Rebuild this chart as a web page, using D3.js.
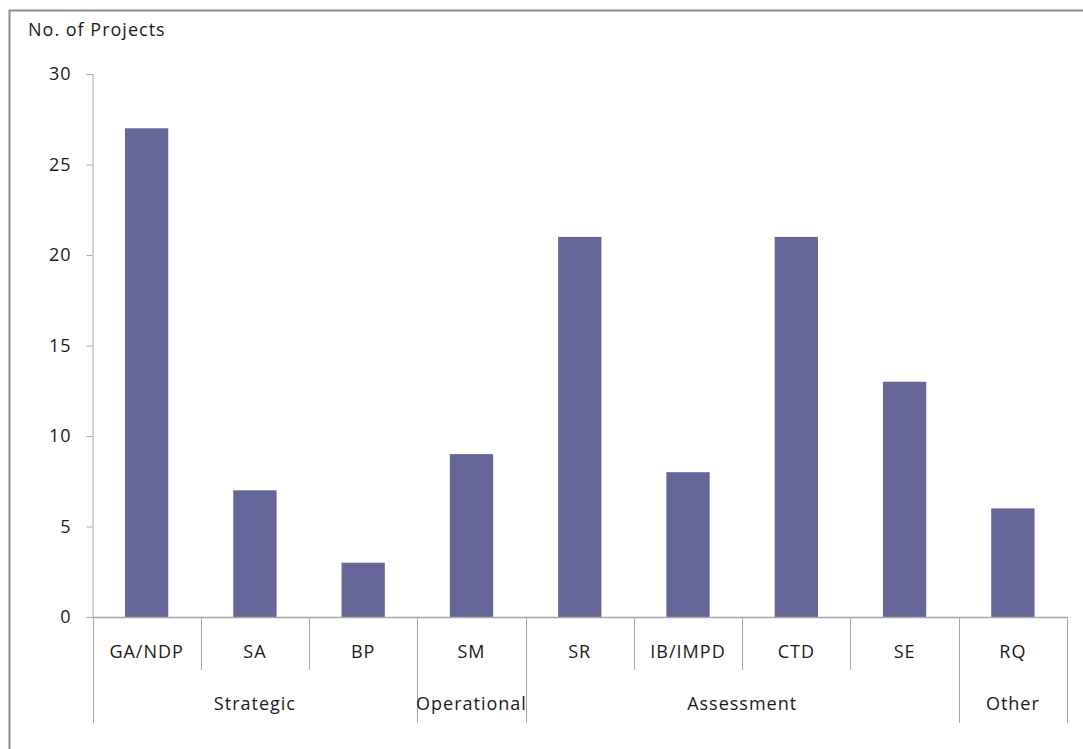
<!DOCTYPE html>
<html><head><meta charset="utf-8">
<script src="https://cdn.jsdelivr.net/npm/d3@7"></script>
<style>body{margin:0;background:#fff}svg{display:block}text{font-family:"Open Sans",sans-serif;fill:#1a1a1a;letter-spacing:1px}</style>
</head><body><svg id="c" width="1083" height="749"></svg>
<script>
const categories = ["GA/NDP","SA","BP","SM","SR","IB/IMPD","CTD","SE","RQ"];
const values = [27,7,3,9,21,8,21,13,6];
const groups = ["Strategic","Strategic","Strategic","Operational","Assessment","Assessment","Assessment","Assessment","Other"];
const yTicks = [0,5,10,15,20,25,30];
const yTitle = "No. of Projects";

const svg = d3.select("#c");
const fs = 18;
const m = {left:92.5, right:1067, top:74, bottom:617};
const x = d3.scaleBand().domain(categories).range([m.left, m.right]).paddingInner(0.6).paddingOuter(0.3);
const xb = d3.scaleBand().domain(categories).range([m.left, m.right]);
const y = d3.scaleLinear().domain([0,30]).range([m.bottom, m.top]);
const grey = "#a6a6a6";

// outer frame
svg.append("rect").attr("x",9.5).attr("y",10.5).attr("width",1100).attr("height",800)
  .attr("fill","none").attr("stroke","#8c8c8c").attr("stroke-width",2);

svg.append("text").attr("x",28).attr("y",36).attr("font-size",fs).text(yTitle);

// bars
svg.selectAll("rect.bar").data(values).join("rect").attr("class","bar")
  .attr("x",(d,i)=>x(categories[i])).attr("width",x.bandwidth())
  .attr("y",d=>y(d)).attr("height",d=>y(0)-y(d))
  .attr("fill","#666699");

// y axis
const ya = svg.append("g").attr("transform",`translate(${m.left},0)`)
  .call(d3.axisLeft(y).tickValues(yTicks).tickSize(6).tickPadding(15).tickFormat(d3.format("d")));
ya.select(".domain").attr("stroke",grey).attr("d",`M-6,${y(30)+0.5}H0.5V${y(0)}`);
ya.selectAll(".tick line").attr("stroke",grey);
ya.selectAll(".tick text").attr("font-size",fs).attr("fill","#1a1a1a").attr("font-family","Open Sans, sans-serif");

// x axis line
svg.append("line").attr("x1",m.left).attr("x2",m.right).attr("y1",y(0)+0.5).attr("y2",y(0)+0.5).attr("stroke",grey).attr("stroke-width",1.5);

// category separators
const catBottom = 670, grpBottom = 723;
const bounds = categories.map(c=>xb(c)).concat([m.right]);
bounds.forEach((bx,i)=>{
  const isGroupEdge = i===0 || i===categories.length || groups[i]!==groups[i-1];
  svg.append("line").attr("x1",Math.round(bx)+0.5).attr("x2",Math.round(bx)+0.5)
    .attr("y1",y(0)).attr("y2",isGroupEdge?grpBottom:catBottom).attr("stroke",grey);
});

// category labels
svg.selectAll("text.cat").data(categories).join("text").attr("class","cat")
  .attr("x",d=>xb(d)+xb.bandwidth()/2).attr("y",658).attr("text-anchor","middle").attr("font-size",fs).text(d=>d);

// group labels
const grpList = [];
groups.forEach((g,i)=>{
  const last = grpList[grpList.length-1];
  if(last && last.name===g) last.end = i; else grpList.push({name:g,start:i,end:i});
});
svg.selectAll("text.grp").data(grpList).join("text").attr("class","grp")
  .attr("x",d=>(xb(categories[d.start]) + xb(categories[d.end])+xb.bandwidth())/2)
  .attr("y",710).attr("text-anchor","middle").attr("font-size",fs).text(d=>d.name);
</script></body></html>
